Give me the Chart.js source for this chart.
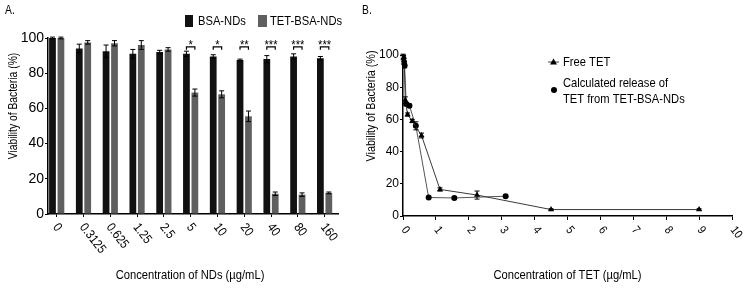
<!DOCTYPE html>
<html>
<head>
<meta charset="utf-8">
<script src="https://cdn.jsdelivr.net/npm/chart.js@4.4.0/dist/chart.umd.min.js"></script>
<style>
  html, body { margin: 0; padding: 0; background: #fff; }
  #wrap { position: relative; width: 744px; height: 288px; overflow: hidden; }
  canvas { position: absolute; top: 0; }
  #chartA { left: 0; }
  #chartB { left: 358px; }
</style>
</head>
<body>
<div id="wrap">
  <canvas id="chartA" width="370" height="288"></canvas>
  <canvas id="chartB" width="386" height="288"></canvas>
</div>
<script>
const FONT = '"Liberation Sans", Arial, sans-serif';
const SQ = 0.86; // the original lettering is condensed
Chart.defaults.font.family = FONT;
Chart.defaults.color = "#000";

// --- panel A data
const concLabels = ["0", "0.3125", "0.625", "1.25", "2.5", "5", "10", "20", "40", "80", "160"];
const bsaValues = [100, 94, 92.5, 91, 92, 91, 89.5, 87.5, 88, 89.5, 88.5];
const bsaErrors = [0.5, 2.5, 3.5, 2.5, 1, 1.5, 1, 0.5, 2, 1.5, 1];
const tetBsaValues = [100, 97.5, 97, 96, 93.5, 69, 68, 55.5, 11.5, 11, 12];
const tetBsaErrors = [0.5, 1, 1.5, 2.5, 1, 2, 2, 3, 1, 1, 0.5];
const sigIndex = [5, 6, 7, 8, 9, 10];
const sigStars = ["*", "*", "**", "***", "***", "***"];
const viabilityTicks = [0, 20, 40, 60, 80, 100];

// --- panel B data
const freeTetX = [0.0176, 0.035, 0.07, 0.14, 0.28, 0.5625, 1.125, 2.25, 4.5, 9];
const freeTetY = [99, 97, 72, 63, 59, 50, 16.5, 13, 4, 4];
const freeTetErr = [1, 1, 2, 1, 1, 1.5, 1, 2.5, 0.5, 0.5];
const releaseX = [0, 0.006, 0.012, 0.024, 0.049, 0.0975, 0.195, 0.39, 0.78, 1.56, 3.12];
const releaseY = [100, 97.5, 96, 95, 93.5, 69.5, 68.5, 56, 11.5, 11.2, 12.3];
const releaseErr = [0.5, 0.5, 1, 1, 1.5, 1, 1, 2.5, 0.8, 0.8, 0.8];
const tetTicks = [0, 1, 2, 3, 4, 5, 6, 7, 8, 9, 10];

// condensed text: rotate, then squeeze along the text direction
function drawText(ctx, text, x, y, size, align, baseline, angle) {
  ctx.save();
  ctx.font = size + "px " + FONT;
  ctx.fillStyle = "#000";
  ctx.textAlign = align;
  ctx.textBaseline = baseline;
  ctx.translate(x, y);
  ctx.rotate((angle || 0) * Math.PI / 180);
  ctx.scale(SQ, 1);
  ctx.fillText(text, 0, 0);
  ctx.restore();
}

function drawErrorBars(chart, dsIndex, values, errors, cap) {
  const { ctx, scales: { y } } = chart;
  const meta = chart.getDatasetMeta(dsIndex);
  ctx.save();
  ctx.strokeStyle = "#000";
  ctx.lineWidth = 1;
  meta.data.forEach((el, i) => {
    const top = y.getPixelForValue(values[i] + errors[i]);
    const bot = y.getPixelForValue(values[i] - errors[i]);
    ctx.beginPath();
    ctx.moveTo(el.x, top);
    ctx.lineTo(el.x, bot);
    ctx.moveTo(el.x - cap, top);
    ctx.lineTo(el.x + cap, top);
    ctx.moveTo(el.x - cap, bot);
    ctx.lineTo(el.x + cap, bot);
    ctx.stroke();
  });
  ctx.restore();
}

function drawRotatedTicks(chart, labels, values, angle, size, dx, dy) {
  const x = chart.scales.x;
  labels.forEach((lab, i) => {
    const px = x.getPixelForValue(values[i]);
    drawText(chart.ctx, lab, px + dx, x.top + dy, size, "left", "middle", angle);
  });
}

const panelAPlugin = {
  id: "panelA",
  afterDatasetsDraw(chart) {
    drawErrorBars(chart, 0, bsaValues, bsaErrors, 2.5);
    drawErrorBars(chart, 1, tetBsaValues, tetBsaErrors, 2.5);
  },
  afterDraw(chart) {
    const { ctx, chartArea, scales: { y } } = chart;
    drawRotatedTicks(chart, concLabels, concLabels.map((c, i) => i), 52, 13, -1.5, 11);

    // significance brackets
    const m0 = chart.getDatasetMeta(0), m1 = chart.getDatasetMeta(1);
    const lineY = y.getPixelForValue(95);
    ctx.save();
    ctx.strokeStyle = "#000";
    ctx.lineWidth = 1.2;
    sigIndex.forEach((k, j) => {
      const x0 = m0.data[k].x, x1 = m1.data[k].x;
      ctx.beginPath();
      ctx.moveTo(x0, lineY + 3);
      ctx.lineTo(x0, lineY);
      ctx.lineTo(x1, lineY);
      ctx.lineTo(x1, lineY + 3);
      ctx.stroke();
      drawText(ctx, sigStars[j], (x0 + x1) / 2, lineY + 2, 13, "center", "alphabetic");
    });

    // legend
    ctx.fillStyle = "#111";
    ctx.fillRect(185, 15, 8, 12);
    ctx.fillStyle = "#5f5f5f";
    ctx.fillRect(258, 15, 9, 12);
    ctx.restore();
    drawText(ctx, "BSA-NDs", 198, 21, 13, "left", "middle");
    drawText(ctx, "TET-BSA-NDs", 270, 21, 13, "left", "middle");
    drawText(ctx, "A.", 5, 11, 12, "left", "middle");

    // axis titles
    drawText(ctx, "Concentration of NDs (\u00b5g/mL)", (chartArea.left + chartArea.right) / 2 - 3, 275, 13, "center", "middle");
    drawText(ctx, "Viability of Bacteria (%)", 14, 106, 12, "center", "middle", -90);
  }
};

const panelBPlugin = {
  id: "panelB",
  afterDatasetsDraw(chart) {
    drawErrorBars(chart, 0, freeTetY, freeTetErr, 2.5);
    drawErrorBars(chart, 1, releaseY, releaseErr, 2.5);
  },
  afterDraw(chart) {
    const { ctx, chartArea } = chart;
    drawRotatedTicks(chart, tetTicks.map(String), tetTicks, 52, 12, 0.5, 12);
    ctx.save();
    ctx.fillStyle = "#000";
    ctx.strokeStyle = "#444";
    ctx.lineWidth = 1;
    // legend markers
    ctx.beginPath();
    ctx.moveTo(190, 62);
    ctx.lineTo(201, 62);
    ctx.stroke();
    ctx.beginPath();
    ctx.moveTo(195.5, 58.5);
    ctx.lineTo(199, 64.5);
    ctx.lineTo(192, 64.5);
    ctx.closePath();
    ctx.fill();
    ctx.beginPath();
    ctx.arc(196, 90, 3, 0, Math.PI * 2);
    ctx.fill();
    ctx.restore();
    drawText(ctx, "Free TET", 205, 62, 13, "left", "middle");
    drawText(ctx, "Calculated release of", 205, 83, 13, "left", "middle");
    drawText(ctx, "TET from TET-BSA-NDs", 205, 99, 13, "left", "middle");
    drawText(ctx, "B.", 4, 11, 12, "left", "middle");

    drawText(ctx, "Concentration of TET (\u00b5g/mL)", (chartArea.left + chartArea.right) / 2, 275, 13, "center", "middle");
    drawText(ctx, "Viability of Bacteria (%)", 14, 106, 12.5, "center", "middle", -90);
  }
};

function createViabilityBarChart() {
  const ctx = document.getElementById("chartA");
  return new Chart(ctx, {
    type: "bar",
    data: {
      datasets: [
        {
          label: "BSA-NDs",
          data: bsaValues.map((v, i) => ({ x: i, y: v })),
          backgroundColor: "#111111",
          borderWidth: 0,
        },
        {
          label: "TET-BSA-NDs",
          data: tetBsaValues.map((v, i) => ({ x: i, y: v })),
          backgroundColor: "#5f5f5f",
          borderWidth: 0,
        },
      ],
    },
    options: {
      responsive: false,
      animation: false,
      categoryPercentage: 0.63,
      barPercentage: 0.8,
      layout: { autoPadding: false, padding: { left: 0, right: 32, top: 38, bottom: 0 } },
      plugins: { legend: { display: false }, tooltip: { enabled: false } },
      scales: {
        x: {
          type: "linear",
          offset: false,
          min: -0.325,
          max: 10.5,
          afterBuildTicks: (s) => { s.ticks = concLabels.map((c, i) => ({ value: i })); },
          afterFit: (s) => { s.height = 74; },
          ticks: { display: false },
          grid: { offset: false, drawOnChartArea: false, drawTicks: true, tickLength: 3, color: "#000" },
          border: { color: "#000", width: 1.5 },
        },
        y: {
          min: 0,
          max: 100,
          afterBuildTicks: (s) => { s.ticks = viabilityTicks.map((v) => ({ value: v })); },
          afterFit: (s) => { s.width = 48; },
          ticks: { font: { size: 14 }, padding: 1 },
          grid: { drawOnChartArea: false, drawTicks: true, tickLength: 3, color: "#000" },
          border: { color: "#000", width: 1.5 },
        },
      },
    },
    plugins: [panelAPlugin],
  });
}

function createReleaseLineChart() {
  const ctx = document.getElementById("chartB");
  return new Chart(ctx, {
    type: "scatter",
    data: {
      datasets: [
        {
          label: "Free TET",
          data: freeTetX.map((x, i) => ({ x: x, y: freeTetY[i] })),
          showLine: true,
          borderColor: "#3a3a3a",
          borderWidth: 1,
          pointStyle: "triangle",
          pointRadius: 3.5,
          pointBackgroundColor: "#000",
          pointBorderColor: "#000",
          pointBorderWidth: 0,
        },
        {
          label: "Calculated release of TET from TET-BSA-NDs",
          data: releaseX.map((x, i) => ({ x: x, y: releaseY[i] })),
          showLine: true,
          borderColor: "#555",
          borderWidth: 1,
          pointStyle: "circle",
          pointRadius: 3,
          pointBackgroundColor: "#000",
          pointBorderColor: "#000",
          pointBorderWidth: 0,
        },
      ],
    },
    options: {
      responsive: false,
      animation: false,
      layout: { autoPadding: false, padding: { left: 0, right: 12, top: 55, bottom: 0 } },
      plugins: { legend: { display: false }, tooltip: { enabled: false } },
      scales: {
        x: {
          type: "linear",
          min: 0,
          max: 10,
          afterBuildTicks: (s) => { s.ticks = tetTicks.map((v) => ({ value: v })); },
          afterFit: (s) => { s.height = 72; },
          ticks: { display: false },
          grid: { drawOnChartArea: false, drawTicks: true, tickLength: 4, color: "#000" },
          border: { color: "#000", width: 1.5 },
        },
        y: {
          min: 0,
          max: 100,
          afterBuildTicks: (s) => { s.ticks = viabilityTicks.map((v) => ({ value: v })); },
          afterFit: (s) => { s.width = 45; },
          ticks: { font: { size: 12 }, padding: 1 },
          grid: { drawOnChartArea: false, drawTicks: true, tickLength: 3, color: "#000" },
          border: { color: "#000", width: 1.5 },
        },
      },
    },
    plugins: [panelBPlugin],
  });
}

createViabilityBarChart();
createReleaseLineChart();
</script>
</body>
</html>
